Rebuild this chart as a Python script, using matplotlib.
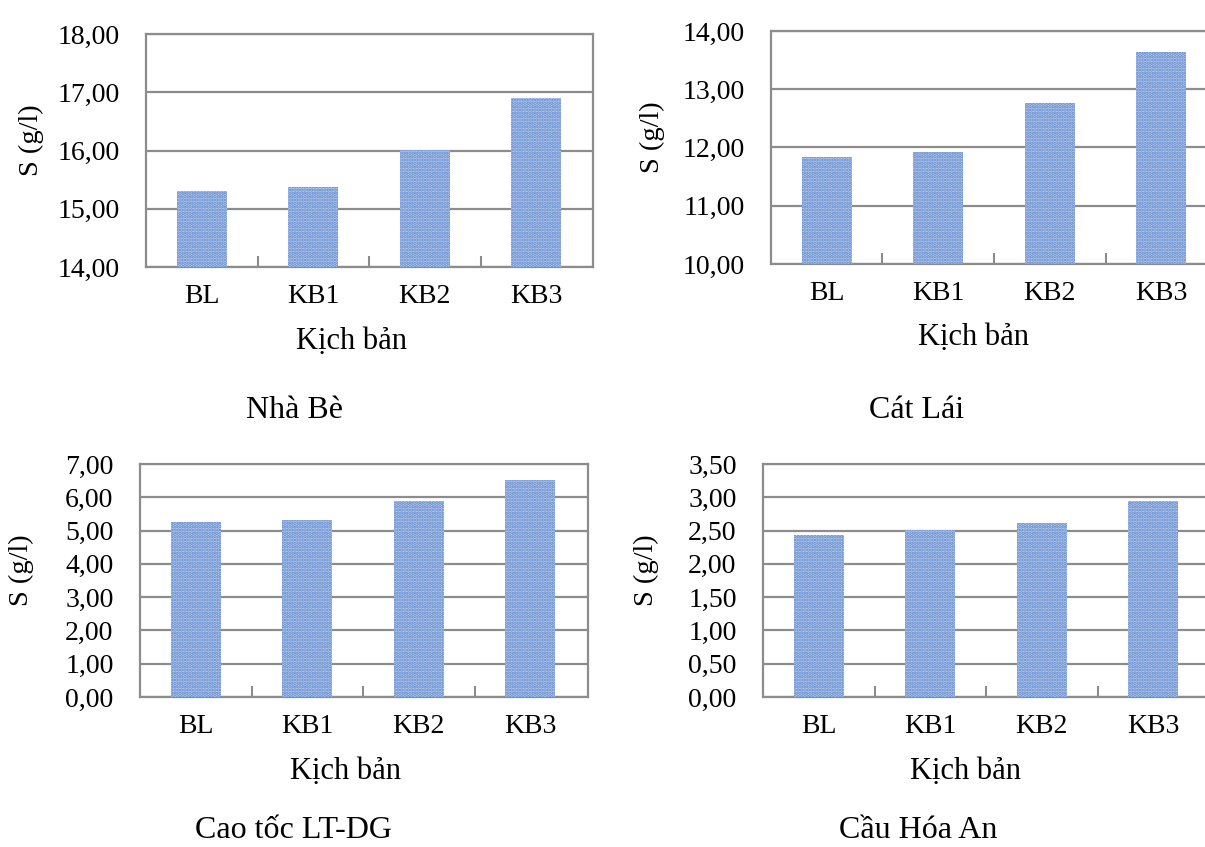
import matplotlib
matplotlib.use('Agg')
import matplotlib.pyplot as plt
from matplotlib.ticker import FixedLocator, FuncFormatter

plt.rcParams['font.family'] = ['Liberation Serif', 'DejaVu Serif']
plt.rcParams['hatch.linewidth'] = 1.7

## du lieu do man
scenarios = ['BL', 'KB1', 'KB2', 'KB3']
nha_be = [15.31, 15.38, 16.00, 16.90]
cat_lai = [11.83, 11.93, 12.76, 13.64]
cao_toc = [5.26, 5.33, 5.88, 6.53]
cau_hoa_an = [2.44, 2.51, 2.61, 2.94]

stations = ['Nhà Bè', 'Cát Lái', 'Cao tốc LT-DG', 'Cầu Hóa An']
y_ranges = [(14, 18, 1), (10, 14, 1), (0, 7, 1), (0, 3.5, 0.5)]

W, H = 1205, 847
grid_c = '#8c8c8c'


def px_box(left, top, right, bottom):
    return [left / W, 1 - bottom / H, (right - left) / W, (bottom - top) / H]


def comma_fmt(v, pos):
    return '{:.2f}'.format(v).replace('.', ',')


def plot_panel(box, values, yr, caption, cap_xy, xlab_x, ylab_x):
    ax = fig.add_axes(px_box(*box))
    ymin, ymax, step = yr
    x = list(range(len(scenarios)))
    ax.bar(x, [v - ymin for v in values], bottom=ymin, width=0.45,
           color='#bccded', edgecolor='#5b86cc', hatch='.....', linewidth=0,
           zorder=3)
    # chieu rong theo so pixel cua khung
    n_cat = (box[2] - box[0]) / 111.5
    ax.set_xlim(-0.5, -0.5 + n_cat)
    ax.set_ylim(ymin, ymax)
    ticks = []
    t = ymin
    while t <= ymax + 1e-9:
        ticks.append(t)
        t += step
    ax.set_yticks(ticks)
    ax.yaxis.set_major_formatter(FuncFormatter(comma_fmt))
    ax.set_xticks(x)
    ax.set_xticklabels(scenarios)
    ax.xaxis.set_minor_locator(FixedLocator([0.5, 1.5, 2.5]))
    ax.tick_params(axis='x', which='major', length=0, labelsize=20, pad=12)
    ax.tick_params(axis='x', which='minor', length=8, direction='in',
                   color=grid_c, width=1.5)
    ax.tick_params(axis='y', length=0, labelsize=20, pad=19)
    ax.yaxis.grid(True, color=grid_c, linewidth=1.6)
    ax.set_axisbelow(True)
    for sp in ax.spines.values():
        sp.set_color(grid_c)
        sp.set_linewidth(1.6)

    ax.set_xlabel('Kịch bản', fontsize=22)
    ax.xaxis.set_label_coords(xlab_x / W, 1 - (box[3] + 74) / H,
                              transform=fig.transFigure)
    ax.set_ylabel('S (g/l)', fontsize=20.5)
    ax.yaxis.set_label_coords(ylab_x / W, 1 - ((box[1] + box[3]) / 2 - 10) / H,
                              transform=fig.transFigure)
    ax.xaxis.label.set_va('center')
    ax.yaxis.label.set_va('center')

    fig.text(cap_xy[0] / W, 1 - cap_xy[1] / H, caption, fontsize=23,
             ha='center', va='center')
    return ax


fig = plt.figure(figsize=(12.05, 8.47), dpi=100)

plot_panel((146, 34, 593, 267), nha_be, y_ranges[0], stations[0],
           (295, 410), 351, 31)
plot_panel((771, 31, 1217, 264), cat_lai, y_ranges[1], stations[1],
           (917, 410), 973, 652)
plot_panel((140, 464, 588, 697), cao_toc, y_ranges[2], stations[2],
           (293, 830), 346, 21)
plot_panel((763, 464, 1208, 697), cau_hoa_an, y_ranges[3], stations[3],
           (918, 830), 965, 646)

plt.savefig('out.png', dpi=100)
